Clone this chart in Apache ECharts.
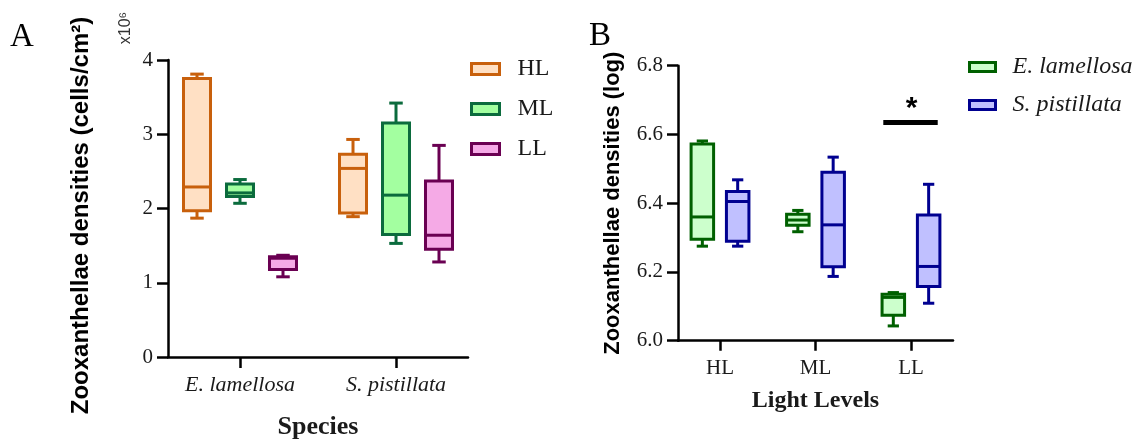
<!DOCTYPE html>
<html>
<head>
<meta charset="utf-8">
<script src="https://cdn.jsdelivr.net/npm/echarts@6/dist/echarts.min.js"></script>
<style>
html,body{margin:0;padding:0;background:#fff;}
#chart{width:1136px;height:439px;}
</style>
</head>
<body>
<div id="chart"></div>
<script>
// ---------- DATA ----------
// Panel A: species on x, light levels as groups. Each entry: [min, q1, median, q3, max] (x10^6 cells/cm2)
const speciesCats = ['E. lamellosa', 'S. pistillata'];
const levelNames = ['HL', 'ML', 'LL'];
const hlDensity = [[1.87, 1.97, 2.29, 3.75, 3.81], [1.89, 1.94, 2.54, 2.73, 2.93]];
const mlDensity = [[2.07, 2.16, 2.21, 2.33, 2.39], [1.53, 1.65, 2.18, 3.15, 3.42]];
const llDensity = [[1.08, 1.18, 1.33, 1.35, 1.37], [1.28, 1.45, 1.64, 2.37, 2.85]];
const yTicksA = [0, 1, 2, 3, 4];

// Panel B: light levels on x, species as groups (log densities)
const lightCats = ['HL', 'ML', 'LL'];
const speciesNames = ['E. lamellosa', 'S. pistillata'];
const eLamLog = [[6.275, 6.295, 6.36, 6.572, 6.581], [6.317, 6.336, 6.351, 6.368, 6.379], [6.043, 6.074, 6.126, 6.135, 6.140]];
const sPisLog = [[6.275, 6.289, 6.405, 6.434, 6.468], [6.187, 6.215, 6.337, 6.49, 6.534], [6.109, 6.158, 6.216, 6.366, 6.455]];
const yTicksB = [6.0, 6.2, 6.4, 6.6, 6.8];
const sigBars = [[1.71, 2.28, 6.635]]; // [xStart, xEnd, y]
const sigMarks = ['*'];

// ---------- STYLE ----------
const SERIF = 'Liberation Serif';
const SANS = 'Liberation Sans';
const colA = {
  HL: {stroke: '#C8600C', fill: '#FFE0C4'},
  ML: {stroke: '#0B6B3D', fill: '#A3FFA0'},
  LL: {stroke: '#6A0052', fill: '#F5AAE6'}
};
const colB = {
  'E. lamellosa': {stroke: '#006000', fill: '#CCFFCC'},
  'S. pistillata': {stroke: '#000090', fill: '#C0C0FF'}
};

function boxRenderer(offset, boxW, stroke, fill) {
  return function (params, api) {
    const x = api.value(0) + offset;
    const pMin = api.coord([x, api.value(1)]);
    const pQ1 = api.coord([x, api.value(2)]);
    const pMed = api.coord([x, api.value(3)]);
    const pQ3 = api.coord([x, api.value(4)]);
    const pMax = api.coord([x, api.value(5)]);
    const cx = pMin[0];
    const h = boxW / 2, c = boxW / 4;
    const ls = {stroke: stroke, lineWidth: 3, lineCap: 'butt'};
    return {
      type: 'group',
      children: [
        {type: 'line', shape: {x1: cx, y1: pMax[1], x2: cx, y2: pQ3[1]}, style: ls},
        {type: 'line', shape: {x1: cx, y1: pQ1[1], x2: cx, y2: pMin[1]}, style: ls},
        {type: 'line', shape: {x1: cx - c, y1: pMax[1], x2: cx + c, y2: pMax[1]}, style: ls},
        {type: 'line', shape: {x1: cx - c, y1: pMin[1], x2: cx + c, y2: pMin[1]}, style: ls},
        {type: 'rect', shape: {x: cx - h, y: pQ3[1], width: boxW, height: pQ1[1] - pQ3[1]},
          style: {fill: fill, stroke: stroke, lineWidth: 3}},
        {type: 'line', shape: {x1: cx - h, y1: pMed[1], x2: cx + h, y2: pMed[1]}, style: ls}
      ]
    };
  };
}

function toRows(arr) { return arr.map((v, i) => [i].concat(v)); }

const axisLineStyle = {color: '#000', width: 2.5};
const tickStyle = {color: '#000', width: 2.5};

const groupsA = [hlDensity, mlDensity, llDensity];
const offsA = [-0.2756, 0, 0.2756];
const seriesA = levelNames.map((name, k) => ({
  type: 'custom', name: name, xAxisIndex: 0, yAxisIndex: 0,
  itemStyle: {color: colA[name].fill, borderColor: colA[name].stroke, borderWidth: 3},
  encode: {x: 0, y: [1, 2, 3, 4, 5]},
  renderItem: boxRenderer(offsA[k], 27, colA[name].stroke, colA[name].fill),
  data: toRows(groupsA[k])
}));

const groupsB = [eLamLog, sPisLog];
const offsB = [-0.185, 0.185];
const seriesB = speciesNames.map((name, k) => ({
  type: 'custom', name: name, xAxisIndex: 1, yAxisIndex: 1,
  itemStyle: {color: colB[name].fill, borderColor: colB[name].stroke, borderWidth: 3},
  encode: {x: 0, y: [1, 2, 3, 4, 5]},
  renderItem: boxRenderer(offsB[k], 22.5, colB[name].stroke, colB[name].fill),
  data: toRows(groupsB[k])
}));

const sigSeries = {
  type: 'custom', xAxisIndex: 1, yAxisIndex: 1, silent: true,
  encode: {x: [0, 1], y: 2},
  renderItem: function (params, api) {
    const p1 = api.coord([api.value(0), api.value(2)]);
    const p2 = api.coord([api.value(1), api.value(2)]);
    return {
      type: 'group',
      children: [
        {type: 'line', shape: {x1: p1[0], y1: p1[1], x2: p2[0], y2: p2[1]}, style: {stroke: '#000', lineWidth: 5}},
        {type: 'text', x: (p1[0] + p2[0]) / 2 + 1, y: p1[1] + 1,
          style: {text: sigMarks[params.dataIndex], fontFamily: SANS, fontWeight: 'bold', fontSize: 30, fill: '#000', align: 'center', verticalAlign: 'bottom'}}
      ]
    };
  },
  data: sigBars
};

const chart = echarts.init(document.getElementById('chart'), null, {renderer: 'canvas'});
chart.setOption({
  animation: false,
  backgroundColor: '#fff',
  textStyle: {fontFamily: SERIF},
  grid: [
    {left: 168, top: 60, width: 300, height: 297, outerBoundsMode: 'none', containLabel: false},
    {left: 678, top: 65.7, width: 275, height: 275, outerBoundsMode: 'none', containLabel: false}
  ],
  xAxis: [
    {
      type: 'value', gridIndex: 0, min: -0.4615, max: 1.4615,
      name: 'Species', nameLocation: 'middle', nameGap: 57,
      nameTextStyle: {fontFamily: SERIF, fontWeight: 'bold', fontSize: 26, color: '#1a1a1a'},
      axisLine: {onZero: false, lineStyle: axisLineStyle},
      axisTick: {show: true, length: 11, lineStyle: tickStyle, customValues: [0, 1]},
      axisLabel: {customValues: [0, 1], formatter: v => speciesCats[Math.round(v)], margin: 17,
        fontFamily: SERIF, fontStyle: 'italic', fontSize: 22, color: '#1a1a1a'},
      splitLine: {show: false}
    },
    {
      type: 'value', gridIndex: 1, min: -0.44, max: 2.44,
      name: 'Light Levels', nameLocation: 'middle', nameGap: 48,
      nameTextStyle: {fontFamily: SERIF, fontWeight: 'bold', fontSize: 24, color: '#1a1a1a'},
      axisLine: {onZero: false, lineStyle: axisLineStyle},
      axisTick: {show: true, length: 10, lineStyle: tickStyle, customValues: [0, 1, 2]},
      axisLabel: {customValues: [0, 1, 2], formatter: v => lightCats[Math.round(v)], margin: 17,
        fontFamily: SERIF, fontSize: 21, color: '#1a1a1a'},
      splitLine: {show: false}
    }
  ],
  yAxis: [
    {
      type: 'value', gridIndex: 0, min: 0, max: 4, interval: 1,
      name: 'Zooxanthellae densities (cells/cm²)', nameLocation: 'middle', nameGap: 75,
      nameTextStyle: {fontFamily: SANS, fontWeight: 'bold', fontSize: 24, color: '#000', padding: [0, 14, 0, 0]},
      axisLine: {show: true, onZero: false, lineStyle: axisLineStyle},
      axisTick: {show: true, length: 11, lineStyle: tickStyle, customValues: yTicksA},
      axisLabel: {customValues: yTicksA, margin: 15, fontFamily: SERIF, fontWeight: 'normal', fontSize: 21, color: '#1a1a1a',
        formatter: v => String(Math.round(v))},
      splitLine: {show: false}
    },
    {
      type: 'value', gridIndex: 1, min: 6.0, max: 6.8, interval: 0.2,
      name: 'Zooxanthellae densities (log)', nameLocation: 'middle', nameGap: 54,
      nameTextStyle: {fontFamily: SANS, fontWeight: 'bold', fontSize: 22, color: '#000'},
      axisLine: {show: true, onZero: false, lineStyle: axisLineStyle},
      axisTick: {show: true, length: 11, lineStyle: tickStyle, customValues: yTicksB},
      axisLabel: {customValues: yTicksB, margin: 15, fontFamily: SERIF, fontWeight: 'normal', fontSize: 21, color: '#1a1a1a',
        formatter: v => v.toFixed(1)},
      splitLine: {show: false}
    }
  ],
  legend: [
    {
      orient: 'vertical', left: 470, top: 57, padding: 0, itemGap: 16,
      itemWidth: 28, itemHeight: 11, icon: 'rect',
      textStyle: {fontFamily: SERIF, fontSize: 24, color: '#1a1a1a', padding: [0, 0, 0, 13], lineHeight: 24},
      data: levelNames.map(n => ({name: n, itemStyle: {color: colA[n].fill, borderColor: colA[n].stroke, borderWidth: 3}})),
      selectedMode: false
    },
    {
      orient: 'vertical', left: 968, top: 55, padding: 0, itemGap: 14,
      itemWidth: 26, itemHeight: 9, icon: 'rect',
      textStyle: {fontFamily: SERIF, fontStyle: 'italic', fontSize: 24, color: '#1a1a1a', padding: [0, 0, 0, 12], lineHeight: 24},
      data: speciesNames.map(n => ({name: n, itemStyle: {color: colB[n].fill, borderColor: colB[n].stroke, borderWidth: 3}})),
      selectedMode: false
    }
  ],
  graphic: [
    {type: 'text', x: 10, y: 37, style: {text: 'A', fontFamily: SERIF, fontSize: 33, fill: '#000', verticalAlign: 'middle'}},
    {type: 'text', x: 589, y: 36, style: {text: 'B', fontFamily: SERIF, fontSize: 33, fill: '#000', verticalAlign: 'middle'}},
    {type: 'text', x: 126, y: 28, rotation: Math.PI / 2,
      style: {text: 'x10⁶', fontFamily: SANS, fontSize: 16, fill: '#333', align: 'center', verticalAlign: 'middle'}}
  ],
  series: seriesA.concat(seriesB, [sigSeries])
});
</script>
</body>
</html>
